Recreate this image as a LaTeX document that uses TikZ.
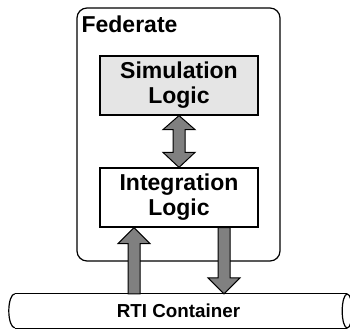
\documentclass[tikz,border=0pt]{standalone}
\usepackage{fontspec}
\setsansfont{Liberation Sans}
\usepackage{tikz}
\usetikzlibrary{calc}

\definecolor{arrowgray}{gray}{0.5}
\definecolor{simgray}{gray}{0.9}

\tikzset{
	logicbox/.style={draw, line width=1.2pt, minimum width=158pt, minimum height=59pt,
		align=center, font=\sffamily\bfseries\fontsize{23}{25}\selectfont},
	thickarrow/.style={draw=black, fill=arrowgray, line width=1pt}
}

% #1 tail, #2 tip, #3 = 1 for up, -1 for down
\newcommand{\fatarrow}[3]{
	\filldraw[thickarrow] ($(#1)+(-6,0)$) -- ($(#2)+(-6,#3*16)$) -- ($(#2)+(-16,#3*16)$)
		-- (#2) -- ($(#2)+(16,#3*16)$) -- ($(#2)+(6,#3*16)$) -- ($(#1)+(6,0)$) -- cycle;
}
% #1 upper tip, #2 lower tip
\newcommand{\fatdouble}[2]{
	\filldraw[thickarrow] (#1) -- ($(#1)+(16,14)$) -- ($(#1)+(6,14)$) -- ($(#2)+(6,-15)$)
		-- ($(#2)+(16,-15)$) -- (#2) -- ($(#2)+(-16,-15)$) -- ($(#2)+(-6,-15)$)
		-- ($(#1)+(-6,14)$) -- ($(#1)+(-16,14)$) -- cycle;
}

\begin{document}
\begin{tikzpicture}[x=1pt,y=-1pt]
	\useasboundingbox (0,0) rectangle (350,329);

	\node[draw, line width=1.2pt, rounded corners=10pt, minimum width=203pt, minimum height=253pt] (fed) at (178.5,134.5) {};
	\node[anchor=base west, inner sep=0pt, font=\sffamily\bfseries\fontsize{23}{25}\selectfont] (fedlabel) at ($(fed.north west)+(5,25)$) {Federate};

	\node[logicbox, fill=simgray] (sim) at (179,85.5) {Simulation\\Logic};
	\node[logicbox, fill=white] (integ) at (179,197.5) {Integration\\Logic};

	% RTI pipe
	\node[minimum width=332pt, minimum height=34pt, inner sep=0pt] (rti) at (181,311) {};
	\node[font=\sffamily\bfseries\fontsize{18.8}{20}\selectfont] (rtilabel) at (178.5,311) {RTI Container};
	\draw[line width=1.2pt] (rti.north west) -- (rti.north east);
	\draw[line width=1.2pt] (rti.south west) -- (rti.south east);
	\draw[line width=1.2pt] (rti.north west) arc[start angle=270, end angle=90, x radius=6, y radius=17];
	\draw[line width=1.2pt] (rti.east) ellipse[x radius=5, y radius=17];

	\coordinate (upx) at (134,0);
	\coordinate (downx) at (224,0);

	\fatdouble{sim.south}{integ.north}
	\fatarrow{rti.north -| upx}{integ.south -| upx}{1}
	\fatarrow{integ.south -| downx}{rti.north -| downx}{-1}
\end{tikzpicture}
\end{document}
